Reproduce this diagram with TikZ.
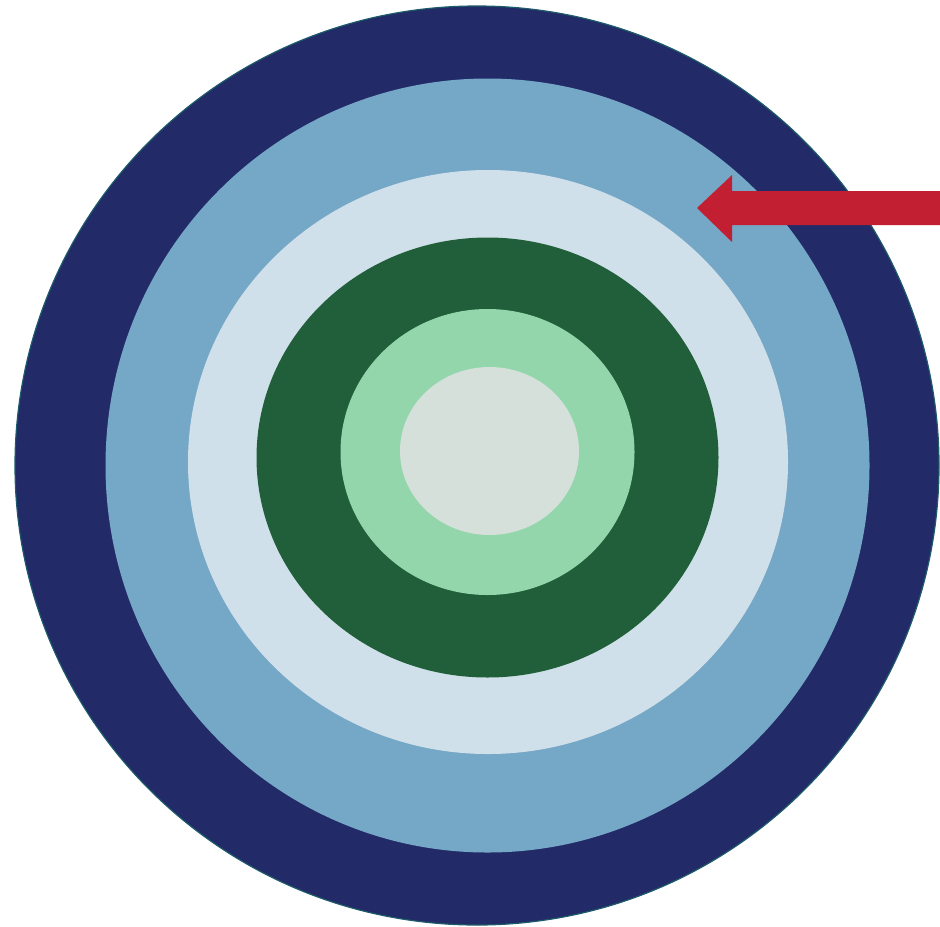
\documentclass[tikz,border=0pt]{standalone}
\usepackage{tikz}

\definecolor{navy}{HTML}{232A68}
\definecolor{skyblue}{HTML}{75A7C6}
\definecolor{paleblue}{HTML}{D0E0EA}
\definecolor{darkgreen}{HTML}{215E3A}
\definecolor{mint}{HTML}{93D6AC}
\definecolor{core}{HTML}{D5E0DA}
\definecolor{rim}{HTML}{1D5A6A}
\definecolor{pointer}{HTML}{C22032}

\begin{document}
\begin{tikzpicture}[x=0.5pt, y=-0.5pt]
    \useasboundingbox (0,0) rectangle (940,926);
    \begin{scope}[every path/.style = {draw=none}]
      \fill[navy, draw=rim, line width=0.6pt] (477,465.5) ellipse [x radius=462, y radius=459.5];
      \fill[skyblue]   (487.5,465.5) ellipse [x radius=382,  y radius=387];
      \fill[paleblue]  (488,462)     ellipse [x radius=300,  y radius=292];
      \fill[darkgreen] (487.5,457.5) ellipse [x radius=231,  y radius=220];
      \fill[mint]      (487.5,452)   ellipse [x radius=147,  y radius=143];
      \fill[core]      (489.5,451)   ellipse [x radius=89.5, y radius=84];
    \end{scope}
    \fill[pointer] (940,191) -- (732,191) -- (732,175) -- (697,208)
      -- (732,242) -- (732,225) -- (940,225) -- cycle;
  \end{tikzpicture}
\end{document}
